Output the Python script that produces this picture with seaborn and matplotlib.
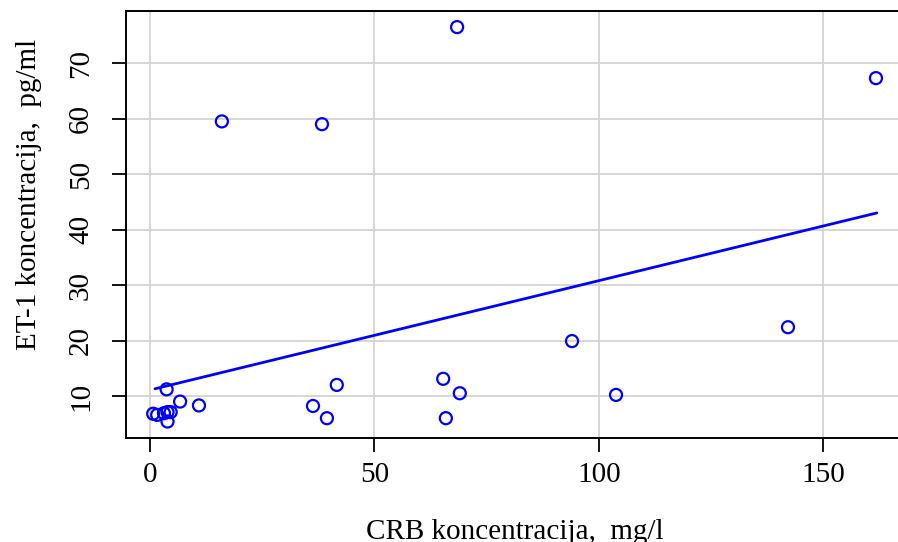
import matplotlib
matplotlib.use("Agg")
import matplotlib.pyplot as plt
import seaborn as sns
import pandas as pd

crb = [16.0, 38.3, 68.4, 161.7, 94.0, 142.1, 103.8, 65.3, 69.0, 65.9, 41.6, 36.3,
       39.4, 10.9, 6.7, 3.7, 0.7, 1.6, 3.1, 3.9, 4.6, 3.9]
et1 = [59.5, 59.0, 76.5, 67.3, 19.9, 22.4, 10.2, 13.1, 10.5, 6.0, 12.0, 8.2,
       6.0, 8.3, 9.0, 11.2, 6.8, 6.6, 6.9, 7.1, 7.1, 5.4]
fit_x = [1.1, 161.9]
fit_y = [11.3, 43.0]
xticks = [0, 50, 100, 150]
yticks = [10, 20, 30, 40, 50, 60, 70]

sns.set_theme(style="white")
plt.rcParams['font.family'] = ['Liberation Serif', 'DejaVu Serif']
plt.rcParams.update({"text.color": "black", "axes.labelcolor": "black",
                     "xtick.color": "black", "ytick.color": "black"})

W, H = 898, 542
fig = plt.figure(figsize=(W / 100, H / 100), dpi=100)
ax = fig.add_axes([126 / W, (H - 438) / H, (902 - 126) / W, (438 - 11) / H])

df = pd.DataFrame({"x": crb, "y": et1})
fdf = pd.DataFrame({"x": fit_x, "y": fit_y})

ax.set_axisbelow(True)
ax.grid(True, color="#d3d3d3", linewidth=1.3)
sns.scatterplot(data=df, x="x", y="y", ax=ax, marker="o", s=75,
                facecolors="none", edgecolor="#0000ff", linewidth=1.6, zorder=3)
sns.lineplot(data=fdf, x="x", y="y", ax=ax, color="#0000ff", linewidth=2, zorder=3)

ax.set_xlim(-5.35, 167.5)
ax.set_ylim(2.43, 79.4)
ax.set_xticks(xticks)
ax.set_yticks(yticks)
ax.set_xticklabels([str(t) for t in xticks], fontsize=21)
ax.set_yticklabels([str(t) for t in yticks], fontsize=21, rotation=90, va="center")
ax.tick_params(axis="both", direction="out", length=10, width=1.3, color="black",
               labelcolor="black", bottom=True, left=True)
ax.tick_params(axis="x", pad=7)
ax.tick_params(axis="y", pad=13)
for s in ax.spines.values():
    s.set_color("black")
    s.set_linewidth(1.4)

ax.set_xlabel("CRB koncentracija,  mg/l", fontsize=21, color="black")
ax.set_ylabel("ET-1 koncentracija,  pg/ml", fontsize=21, color="black")
aw, ah = (902 - 126), (438 - 11)
ax.xaxis.label.set_va("baseline")
ax.xaxis.set_label_coords((515 - 126) / aw, -(539 - 438) / ah)
ax.yaxis.label.set_va("center")
ax.yaxis.set_label_coords(-(126 - 29) / aw, (438 - 194) / ah)

fig.savefig("out.png", dpi=100)
